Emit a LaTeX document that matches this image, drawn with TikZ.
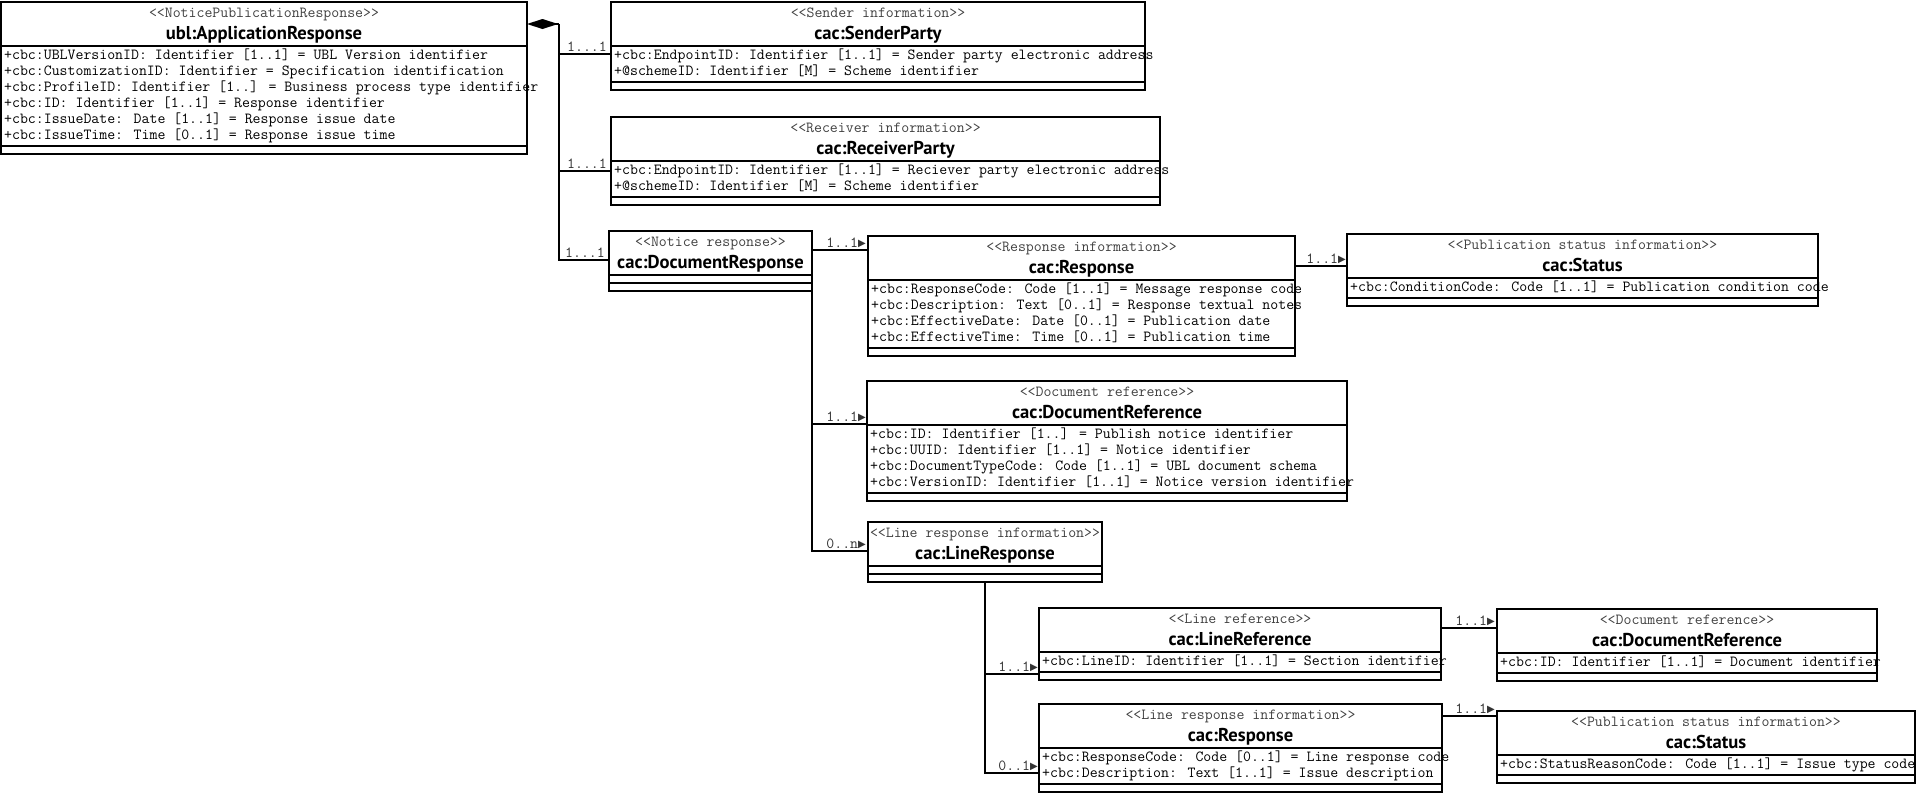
\documentclass[tikz,border=0pt]{standalone}
\usepackage{fontspec}
\newfontfamily\ttlfont{PT Sans}
\newfontfamily\symfnt{DejaVu Sans}
\usetikzlibrary{arrows.meta}
\tikzset{
 umlbox/.style={draw=black, line width=2pt, inner sep=0pt, outer sep=0pt},
 sepline/.style={line width=2pt},
 stereo/.style={font=\ttfamily\fontsize{15.4}{16}\selectfont, text=black!75, inner sep=0pt, anchor=base},
 ttl/.style={font=\ttlfont\bfseries\fontsize{18.6}{20}\selectfont, inner sep=0pt, anchor=base},
 attr/.style={font=\ttfamily\fontsize{15.4}{16}\selectfont, inner sep=0pt, anchor=base west},
 mult/.style={font=\ttfamily\fontsize{15.4}{16}\selectfont, text=black!80, inner sep=0pt, anchor=base east},
 conn/.style={line width=2pt},
}
\newcommand{\tri}{{\symfnt\fontsize{10}{10}\selectfont\raisebox{0.5pt}{▶}}}
\newcommand{\umlclass}[8]{%
 \pgfmathsetmacro{\sepY}{#3+44}%
 \ifnum#5=0 \pgfmathsetmacro{\abY}{\sepY+8}\else\pgfmathsetmacro{\abY}{\sepY+16*#5+4}\fi
 \pgfmathsetmacro{\botY}{\abY+8}%
 \pgfmathsetmacro{\bxW}{#4-#2}%
 \pgfmathsetmacro{\bxH}{\botY-#3}%
 \node[umlbox, minimum width=\bxW pt, minimum height=\bxH pt, anchor=north west] (#1) at (#2,#3) {};
 \draw[sepline] (#2,\sepY) -- (#4,\sepY) (#2,\abY) -- (#4,\abY);
 \node[stereo] (#1-st) at ({(#2+#4)/2},{#3+15.5}) {#6};
 \node[ttl] (#1-ti) at ({(#2+#4)/2},{#3+37.5}) {#7};
 \ifnum#5>0
 \foreach \attrtxt [count=\i] in {#8} {\node[attr] (#1-a\i) at ({#2+3},{\sepY+13+16*(\i-1)}) {\attrtxt};}
 \fi
}
\begin{document}
\begin{tikzpicture}[x=1pt,y=-1pt]
\useasboundingbox (0,0) rectangle (1916,793);

\umlclass{A}{1}{2}{527}{6}{<<NoticePublicationResponse>>}{ubl:ApplicationResponse}{+cbc:UBLVersionID: Identifier [1..1] = UBL Version identifier,+cbc:CustomizationID: Identifier = Specification identification,+cbc:ProfileID: Identifier [1..] = Business process type identifier,+cbc:ID: Identifier [1..1] = Response identifier,+cbc:IssueDate: Date [1..1] = Response issue date,+cbc:IssueTime: Time [0..1] = Response issue time}

\umlclass{Sender}{611}{2}{1145}{2}{<<Sender information>>}{cac:SenderParty}{+cbc:EndpointID: Identifier [1..1] = Sender party electronic address,+@schemeID: Identifier [M] = Scheme identifier}

\umlclass{Receiver}{611}{117}{1160}{2}{<<Receiver information>>}{cac:ReceiverParty}{+cbc:EndpointID: Identifier [1..1] = Reciever party electronic address,+@schemeID: Identifier [M] = Scheme identifier}

\umlclass{DocResp}{609}{231}{812}{0}{<<Notice response>>}{cac:DocumentResponse}{}

\umlclass{Resp}{868}{236}{1295}{4}{<<Response information>>}{cac:Response}{+cbc:ResponseCode: Code [1..1] = Message response code,+cbc:Description: Text [0..1] = Response textual notes,+cbc:EffectiveDate: Date [0..1] = Publication date,+cbc:EffectiveTime: Time [0..1] = Publication time}

\umlclass{Status}{1347}{234}{1818}{1}{<<Publication status information>>}{cac:Status}{+cbc:ConditionCode: Code [1..1] = Publication condition code}

\umlclass{DocRef}{867}{381}{1347}{4}{<<Document reference>>}{cac:DocumentReference}{+cbc:ID: Identifier [1..] = Publish notice identifier,+cbc:UUID: Identifier [1..1] = Notice identifier,+cbc:DocumentTypeCode: Code [1..1] = UBL document schema,+cbc:VersionID: Identifier [1..1] = Notice version identifier}

\umlclass{LineResp}{868}{522}{1102}{0}{<<Line response information>>}{cac:LineResponse}{}

\umlclass{LineRef}{1039}{608}{1441}{1}{<<Line reference>>}{cac:LineReference}{+cbc:LineID: Identifier [1..1] = Section identifier}

\umlclass{DocRefB}{1497}{609}{1877}{1}{<<Document reference>>}{cac:DocumentReference}{+cbc:ID: Identifier [1..1] = Document identifier}

\umlclass{RespB}{1039}{704}{1442}{2}{<<Line response information>>}{cac:Response}{+cbc:ResponseCode: Code [0..1] = Line response code,+cbc:Description: Text [1..1] = Issue description}

\umlclass{StatusB}{1497}{711}{1915}{1}{<<Publication status information>>}{cac:Status}{+cbc:StatusReasonCode: Code [1..1] = Issue type code}

% connectors
\coordinate (hub) at (559,24);
\draw[conn, {Diamond[length=31pt,width=10pt]}-] ([yshift=-22pt]A.north east) -- (hub);
\draw[conn] (hub) |- ([yshift=-52pt]Sender.north west);
\draw[conn] (hub) |- ([yshift=-54pt]Receiver.north west);
\draw[conn] (hub) |- ([yshift=-29pt]DocResp.north west);
\draw[conn] ([yshift=-19pt]DocResp.north east) -- ([yshift=-14pt]Resp.north west);
\draw[conn] (DocResp.south east) |- ([yshift=-43pt]DocRef.north west);
\draw[conn] (DocResp.south east) |- ([yshift=-29pt]LineResp.north west);
\draw[conn] ([yshift=-30pt]Resp.north east) -- ([yshift=-32pt]Status.north west);
\draw[conn] (LineResp.south) |- ([yshift=-66pt]LineRef.north west);
\draw[conn] (LineResp.south) |- ([yshift=-69pt]RespB.north west);
\draw[conn] ([yshift=-20pt]LineRef.north east) -- ([yshift=-19pt]DocRefB.north west);
\draw[conn] ([yshift=-12pt]RespB.north east) -- ([yshift=-5pt]StatusB.north west);

% multiplicities
\node[mult] (m1) at (607,51) {1...1};
\node[mult] (m2) at (607,168) {1...1};
\node[mult] (m3) at (605,257) {1...1};
\node[mult] (m4) at (866,247) {1..1\tri};
\node[mult] (m5) at (866,421) {1..1\tri};
\node[mult] (m6) at (866,548) {0..n\tri};
\node[mult] (m7) at (1346,263) {1..1\tri};
\node[mult] (m8) at (1038,671) {1..1\tri};
\node[mult] (m9) at (1038,770) {0..1\tri};
\node[mult] (m10) at (1495,625) {1..1\tri};
\node[mult] (m11) at (1495,713) {1..1\tri};
\end{tikzpicture}
\end{document}
